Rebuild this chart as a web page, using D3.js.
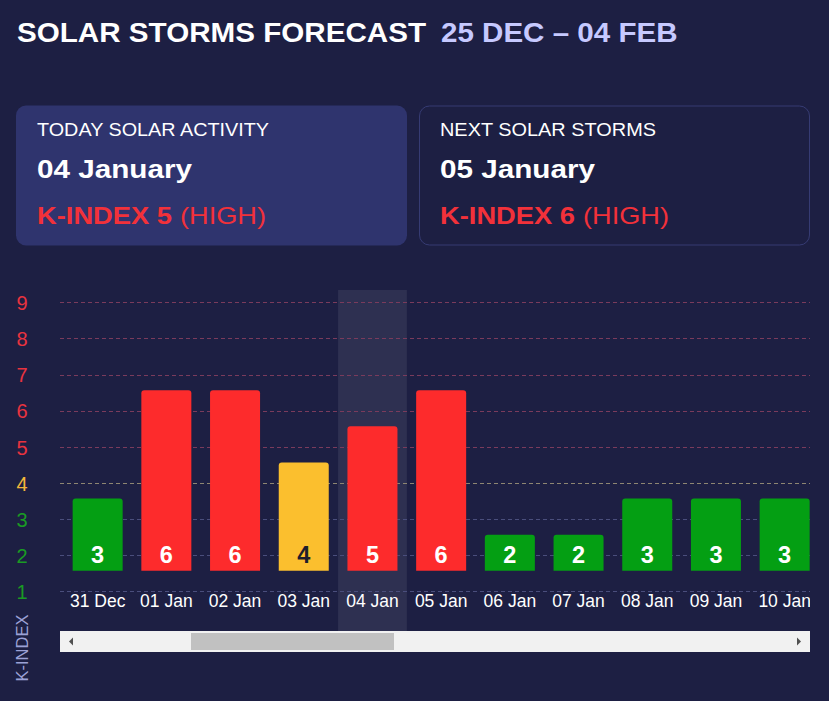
<!DOCTYPE html>
<html>
<head>
<meta charset="utf-8">
<script src="https://cdn.jsdelivr.net/npm/d3@7"></script>
<style>
  html, body { margin: 0; padding: 0; background: #1d1f43; }
  svg { display: block; font-family: "Liberation Sans", Arial, sans-serif; }
</style>
</head>
<body>
<svg id="chart" width="829" height="701"></svg>
<script>
// ---- data ----
const dates = ["31 Dec", "01 Jan", "02 Jan", "03 Jan", "04 Jan", "05 Jan", "06 Jan", "07 Jan", "08 Jan", "09 Jan", "10 Jan"];
const kIndex = [3, 6, 6, 4, 5, 6, 2, 2, 3, 3, 3];
const yTicks = [1, 2, 3, 4, 5, 6, 7, 8, 9];
const todayDate = "04 Jan";
const titleMain = "SOLAR STORMS FORECAST";
const titleRange = "25 DEC – 04 FEB";
const cardToday = { head: "TODAY SOLAR ACTIVITY", date: "04 January", k: 5, level: "(HIGH)" };
const cardNext = { head: "NEXT SOLAR STORMS", date: "05 January", k: 6, level: "(HIGH)" };
const yAxisTitle = "K-INDEX";

// ---- colours ----
const barColor = k => k >= 5 ? "#fd2b2c" : (k === 4 ? "#fbbf2e" : "#049f13");
const tickColor = k => k >= 5 ? "#e8333f" : (k === 4 ? "#f3b63a" : "#1a9b24");
const gridColor = k => k >= 5 ? "#7a3b5c" : (k === 4 ? "#8e8672" : "#4a4e7c");

const svg = d3.select("#chart");

// ---- title ----
const title = svg.append("g");
title.append("text").attr("x", 17).attr("y", 41.5)
  .attr("font-size", 28.5).attr("font-weight", "bold").attr("fill", "#ffffff")
  .attr("textLength", 409).attr("lengthAdjust", "spacingAndGlyphs")
  .text(titleMain);
title.append("text").attr("x", 441).attr("y", 41.5)
  .attr("font-size", 28.5).attr("font-weight", "bold").attr("fill", "#c6c9ff")
  .attr("textLength", 236.5).attr("lengthAdjust", "spacingAndGlyphs")
  .text(titleRange);

// ---- cards ----
function card(x, c, filled, lens) {
  const g = svg.append("g");
  g.append("rect").attr("x", filled ? x : x + 0.5).attr("y", filled ? 105.5 : 106)
    .attr("width", filled ? 391 : 390).attr("height", filled ? 140 : 139)
    .attr("rx", 10)
    .attr("fill", filled ? "#2f346e" : "none")
    .attr("stroke", filled ? "none" : "#363b73").attr("stroke-width", 1);
  g.append("text").attr("x", x + 21).attr("y", 135.5)
    .attr("font-size", 19).attr("fill", "#ffffff")
    .attr("textLength", lens[0]).attr("lengthAdjust", "spacingAndGlyphs")
    .text(c.head);
  g.append("text").attr("x", x + 21).attr("y", 178)
    .attr("font-size", 25.5).attr("font-weight", "bold").attr("fill", "#ffffff")
    .attr("textLength", 155).attr("lengthAdjust", "spacingAndGlyphs")
    .text(c.date);
  g.append("text").attr("x", x + 21).attr("y", 224)
    .attr("font-size", 24).attr("font-weight", "bold").attr("fill", "#f2313a")
    .attr("textLength", 135).attr("lengthAdjust", "spacingAndGlyphs")
    .text("K-INDEX " + c.k);
  g.append("text").attr("x", x + 164).attr("y", 224)
    .attr("font-size", 24).attr("fill", "#f2313a")
    .attr("textLength", 86).attr("lengthAdjust", "spacingAndGlyphs")
    .text(c.level);
}
card(16, cardToday, true, [232]);
card(419, cardNext, false, [216]);

// ---- scales ----
const plotLeft = 60, plotRight = 810;
const y = d3.scaleLinear().domain([1, 9]).range([591.3, 302.3]);
const yBar = d3.scaleLinear().domain([1, 9]).range([570.8, 281.8]);
const step = 68.7;
const x = d3.scaleBand().domain(dates)
  .range([63.3, 63.3 + dates.length * step])
  .paddingInner(0.272).paddingOuter(0.136);

const data = dates.map((d, i) => ({ date: d, k: kIndex[i] }));

svg.append("clipPath").attr("id", "plotClip")
  .append("rect").attr("x", plotLeft).attr("y", 280).attr("width", plotRight - plotLeft).attr("height", 360);

const plot = svg.append("g").attr("clip-path", "url(#plotClip)");

// highlight today's band
plot.append("rect")
  .attr("x", x(todayDate) - x.step() * x.paddingInner() / 2)
  .attr("y", 290)
  .attr("width", x.step())
  .attr("height", 631 - 290)
  .attr("fill", "rgba(255,255,255,0.08)");

// grid lines
plot.selectAll("line.grid").data(yTicks).join("line")
  .attr("class", "grid")
  .attr("x1", plotLeft).attr("x2", plotRight)
  .attr("y1", d => Math.round(y(d)) + 0.5).attr("y2", d => Math.round(y(d)) + 0.5)
  .attr("stroke", d => gridColor(d))
  .attr("stroke-width", 1)
  .attr("stroke-dasharray", "4,3");

// bars with rounded top corners
const r = 3;
plot.selectAll("path.bar").data(data).join("path")
  .attr("class", "bar")
  .attr("fill", d => barColor(d.k))
  .attr("d", d => {
    const x0 = x(d.date), w = x.bandwidth();
    const top = yBar(d.k), bottom = yBar(1);
    return `M${x0},${bottom}V${top + r}Q${x0},${top} ${x0 + r},${top}H${x0 + w - r}Q${x0 + w},${top} ${x0 + w},${top + r}V${bottom}Z`;
  });

// value labels
plot.selectAll("text.val").data(data).join("text")
  .attr("class", "val")
  .attr("x", d => x(d.date) + x.bandwidth() / 2)
  .attr("y", yBar(1) - 7.5)
  .attr("text-anchor", "middle")
  .attr("font-size", 23.5).attr("font-weight", "bold")
  .attr("fill", d => d.k === 4 ? "#1d1d2c" : "#ffffff")
  .text(d => d.k);

// x axis labels
const xAxis = d3.axisBottom(x).tickSize(0).tickPadding(0);
const xg = plot.append("g").attr("transform", "translate(0,606.5)").call(xAxis);
xg.select(".domain").remove();
xg.selectAll("text")
  .attr("dy", 0)
  .attr("font-size", 17.5).attr("fill", "#ffffff")
  .attr("font-family", "\"Liberation Sans\", Arial, sans-serif");

// y axis labels
const yAxis = d3.axisLeft(y).tickValues(yTicks).tickFormat(d3.format("d")).tickSize(0).tickPadding(0);
const yg = svg.append("g").attr("transform", "translate(22,0)").call(yAxis);
yg.select(".domain").remove();
yg.selectAll("text")
  .attr("text-anchor", "middle").attr("x", 0).attr("dy", "0.36em")
  .attr("font-size", 20)
  .attr("font-family", "\"Liberation Sans\", Arial, sans-serif")
  .attr("fill", d => tickColor(d));

// y axis title
svg.append("text")
  .attr("transform", "translate(28,648) rotate(-90)")
  .attr("text-anchor", "middle")
  .attr("font-size", 16.5).attr("fill", "#9ca1d6")
  .text(yAxisTitle);

// ---- scrollbar (UI element) ----
const sb = svg.append("g");
sb.append("rect").attr("x", 60).attr("y", 631).attr("width", 750).attr("height", 21).attr("fill", "#f1f1f1");
sb.append("rect").attr("x", 191).attr("y", 633).attr("width", 203).attr("height", 17).attr("fill", "#c1c1c1");
sb.append("path").attr("d", "M73,637.5L69,641.5L73,645.5Z").attr("fill", "#505050");
sb.append("path").attr("d", "M797,637.5L801,641.5L797,645.5Z").attr("fill", "#505050");
</script>
</body>
</html>
